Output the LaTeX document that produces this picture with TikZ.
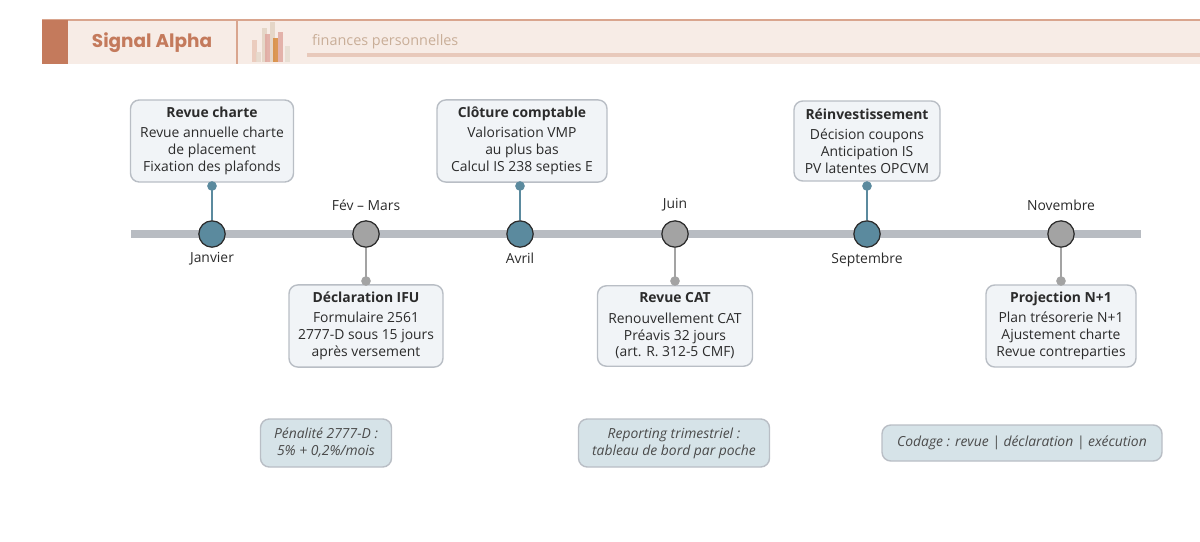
\documentclass[tikz,border=0pt]{standalone}
\usepackage{fontspec}
\setmainfont{Open Sans}
\newfontfamily\headfont{Poppins}
\usetikzlibrary{positioning}
\definecolor{accent}{HTML}{C47A5C}
\definecolor{headbg}{HTML}{F7ECE6}
\definecolor{headline}{HTML}{D9A58E}
\definecolor{headmuted}{HTML}{C9AE98}
\definecolor{rail}{HTML}{B8BCC2}
\definecolor{teal}{HTML}{5B8A9E}
\definecolor{stone}{HTML}{A3A3A3}
\definecolor{cardbg}{HTML}{F1F4F7}
\definecolor{cardline}{HTML}{B9BEC5}
\definecolor{notebg}{HTML}{D6E3E8}
\definecolor{ink}{HTML}{2B2B2B}
\tikzset{
  card/.style={draw=cardline, fill=cardbg, rounded corners=5pt, line width=0.8pt, align=center, font=\fontsize{7.9}{9.6}\selectfont, text=ink, inner sep=4pt},
  note/.style={draw=cardline, fill=notebg, rounded corners=5pt, line width=0.8pt, align=center, font=\fontsize{7.9}{9.6}\selectfont\itshape, text=ink!85},
  milestone/.style={circle, draw=ink, line width=0.7pt, minimum size=15pt, inner sep=0pt},
  knob/.style={circle, inner sep=0pt, minimum size=5.5pt},
  month/.style={font=\fontsize{7.9}{9}\selectfont, text=ink, inner sep=1pt},
}
\begin{document}
\begin{tikzpicture}[x=0.02cm, y=-0.02cm]
\useasboundingbox (0,0) rectangle (1200,541);
% header
\fill[headbg] (42,20) rectangle (1200,64);
\draw[headline, line width=0.8pt] (42,20) -- (1200,20);
\fill[accent] (42,20) rectangle (68,64);
\draw[headline, line width=0.8pt] (237,20) -- (237,64);
\node[text=accent, font=\headfont\fontsize{10.5}{11}\selectfont\bfseries] (brand) at (152,43) {Signal Alpha};
\foreach \x/\t/\c in {252/40/E9C7B8, 256/52/E6D9CC, 262/28/E2D3C2, 265/34/E0A8A0, 270/22/E2D3C2, 273/38/D8893A, 278/32/E0A8A0, 285/46/E6DDD2} {
  \definecolor{barc}{HTML}{\c}
  \fill[barc, opacity=0.85] (\x,\t) rectangle (\x+5,62);
}
\fill[headline!60] (307,53) rectangle (1200,57);
\node[anchor=west, text=headmuted, font=\fontsize{8.2}{9}\selectfont] (tagline) at (306,42) {finances personnelles};
% rail
\draw[rail, line width=4pt] (131,234) -- (1141,234);
% milestones
\node[milestone, fill=teal] (jan) at (212,234) {};
\node[milestone, fill=stone] (fev) at (366,234) {};
\node[milestone, fill=teal] (avr) at (520,234) {};
\node[milestone, fill=stone] (juin) at (675,234) {};
\node[milestone, fill=teal] (sep) at (867,234) {};
\node[milestone, fill=stone] (nov) at (1061,234) {};
\node[month, below=1.5pt of jan] {Janvier};
\node[month, above=4pt of fev] {Fév – Mars};
\node[month, below=1.5pt of avr] {Avril};
\node[month, above=4pt of juin] {Juin};
\node[month, below=1.5pt of sep] {Septembre};
\node[month, above=4pt of nov] {Novembre};
% cards above
\node[card, minimum width=163*0.02cm, minimum height=80*0.02cm] (charte) at (212,141) {\textbf{Revue charte}\\[2pt]Revue annuelle charte\\de placement\\Fixation des plafonds};
\node[card, minimum width=170*0.02cm, minimum height=80*0.02cm] (cloture) at (522,141) {\textbf{Clôture comptable}\\[2pt]Valorisation VMP\\au plus bas\\Calcul IS 238 septies E};
\node[card, minimum width=146*0.02cm, minimum height=80*0.02cm] (reinv) at (867,141) {\textbf{Réinvestissement}\\[2pt]Décision coupons\\Anticipation IS\\PV latentes OPCVM};
% cards below
\node[card, minimum width=154*0.02cm, minimum height=79*0.02cm] (ifu) at (366,326) {\textbf{Déclaration IFU}\\[2pt]Formulaire 2561\\2777-D sous 15 jours\\après versement};
\node[card, minimum width=155*0.02cm, minimum height=79*0.02cm] (cat) at (675,326) {\textbf{Revue CAT}\\[2pt]Renouvellement CAT\\Préavis 32 jours\\(art. R. 312-5 CMF)};
\node[card, minimum width=150*0.02cm, minimum height=79*0.02cm] (proj) at (1061,326) {\textbf{Projection N+1}\\[2pt]Plan trésorerie N+1\\Ajustement charte\\Revue contreparties};
% stems
\foreach \m/\y/\c in {jan/186/teal, avr/186/teal, sep/186/teal, fev/281/stone, juin/281/stone, nov/281/stone} {
  \coordinate (\m-tip) at (\m |- 0,\y);
  \draw[\c, line width=1pt] (\m) -- (\m-tip);
  \node[knob, fill=\c] at (\m-tip) {};
}
% notes
\node[note, minimum width=131*0.02cm, minimum height=48*0.02cm] (penalite) at (326,443) {Pénalité 2777-D :\\5\% + 0,2\%/mois};
\node[note, minimum width=191*0.02cm, minimum height=48*0.02cm] (reporting) at (674,443) {Reporting trimestriel :\\tableau de bord par poche};
\node[note, minimum width=280*0.02cm, minimum height=36*0.02cm] (codage) at (1022,443) {Codage : revue | déclaration | exécution};
\end{tikzpicture}
\end{document}
